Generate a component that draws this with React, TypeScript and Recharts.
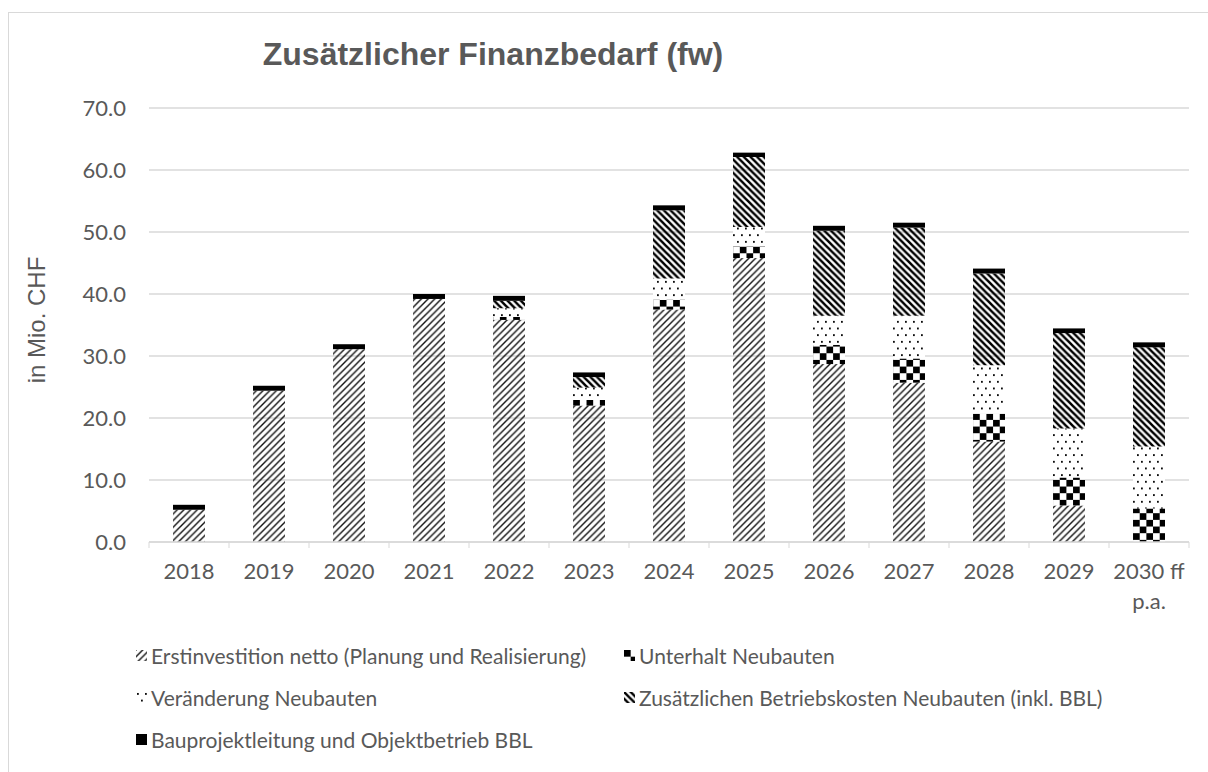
import React from 'react'
import { BarChart, Bar, XAxis, YAxis, CartesianGrid } from 'recharts'

const years = ['2018', '2019', '2020', '2021', '2022', '2023', '2024', '2025', '2026', '2027', '2028', '2029', '2030 ff p.a.']

// in Mio. CHF
const erstinvestition = [5.2, 24.4, 31.1, 39.2, 35.8, 22.0, 37.5, 45.8, 28.7, 25.7, 16.2, 5.9, 0]
const unterhalt = [0, 0, 0, 0, 0.5, 0.9, 1.6, 1.9, 3.1, 3.9, 4.5, 4.5, 5.4]
const veraenderung = [0, 0, 0, 0, 1.4, 2.0, 3.4, 3.1, 4.7, 6.9, 7.8, 7.9, 10.0]
const betriebskosten = [0, 0, 0, 0, 1.2, 1.7, 11.0, 11.3, 13.7, 14.2, 14.8, 15.4, 16.0]
const bauprojektleitung = [0.8, 0.8, 0.8, 0.8, 0.8, 0.75, 0.8, 0.7, 0.8, 0.8, 0.8, 0.75, 0.8]

const yTicks = [0, 10, 20, 30, 40, 50, 60, 70]

const series = [
  { key: 'erst', name: 'Erstinvestition netto (Planung und Realisierung)', fill: 'url(#patErst)' },
  { key: 'unterhalt', name: 'Unterhalt Neubauten', fill: 'url(#patCheck)' },
  { key: 'veraenderung', name: 'Veränderung Neubauten', fill: 'url(#patDots)' },
  { key: 'betrieb', name: 'Zusätzlichen Betriebskosten Neubauten (inkl. BBL)', fill: 'url(#patDown)' },
  { key: 'bau', name: 'Bauprojektleitung und Objektbetrieb BBL', fill: '#000' },
]

const data = years.map((year, i) => ({
  year,
  erst: erstinvestition[i],
  unterhalt: unterhalt[i],
  veraenderung: veraenderung[i],
  betrieb: betriebskosten[i],
  bau: bauprojektleitung[i],
}))

const W = 1208
const H = 772
const LEFT = 149
const RIGHT = 19
const BAND = (W - LEFT - RIGHT) / years.length
const GREY = '#595959'
const LINE = '#d9d9d9'
const FONT = 'Lato, "Open Sans", sans-serif'

function YearTick(props: any) {
  const { x, y, payload, index } = props
  const label: string = payload.value
  const lines = label.includes(' p.a.') ? [label.replace(' p.a.', ''), 'p.a.'] : [label]
  return (
    <g>
      <line x1={x - BAND / 2} x2={x - BAND / 2} y1={y} y2={y + 6} stroke={LINE} />
      {index === years.length - 1 && (
        <line x1={x + BAND / 2} x2={x + BAND / 2} y1={y} y2={y + 6} stroke={LINE} />
      )}
      {lines.map((l, i) => (
        <text key={i} x={x} y={y + 37 + i * 30} textAnchor="middle" fill={GREY} fontSize={22} fontFamily={FONT}>
          {l}
        </text>
      ))}
    </g>
  )
}

function Patterns() {
  return (
    <svg width={0} height={0} style={{ position: 'absolute' }}>
      <defs>
        <pattern id="patErst" width={6.67} height={6.67} patternUnits="userSpaceOnUse">
          <path d="M-1,7.67 L7.67,-1 M-1,1 L1,-1 M5.67,7.67 L7.67,5.67" stroke="#111" strokeWidth={1.4} />
        </pattern>
        <pattern id="patDown" width={6.67} height={6.67} patternUnits="userSpaceOnUse">
          <path d="M-1,-1 L7.67,7.67 M-1,5.67 L1,7.67 M5.67,-1 L7.67,1" stroke="#000" strokeWidth={2.5} />
        </pattern>
        <pattern id="patCheck" width={13.33} height={13.33} patternUnits="userSpaceOnUse">
          <rect width={13.33} height={13.33} fill="#fff" />
          <rect x={0} y={0} width={6.67} height={6.67} fill="#000" />
          <rect x={6.67} y={6.67} width={6.67} height={6.67} fill="#000" />
        </pattern>
        <pattern id="patDots" width={8} height={13.33} patternUnits="userSpaceOnUse">
          <rect width={8} height={13.33} fill="#fff" />
          <rect x={1} y={1} width={1.8} height={1.8} fill="#000" />
          <rect x={5} y={7.67} width={1.8} height={1.8} fill="#000" />
        </pattern>
      </defs>
    </svg>
  )
}

function LegendItem({ fill, name, x, y }: { fill: string; name: string; x: number; y: number }) {
  return (
    <div style={{ position: 'absolute', left: x, top: y - 13, display: 'flex', alignItems: 'center', gap: 4, height: 26 }}>
      <svg width={11} height={11}>
        <rect width={11} height={11} fill={fill} />
      </svg>
      <span style={{ fontFamily: FONT, fontSize: 21, color: GREY, whiteSpace: 'nowrap' }}>{name}</span>
    </div>
  )
}

export default function App() {
  const legendPos = [
    { x: 136, y: 655 },
    { x: 624, y: 655 },
    { x: 136, y: 697 },
    { x: 624, y: 697 },
    { x: 136, y: 739 },
  ]
  return (
    <div style={{ position: 'absolute', left: 0, top: 0, width: W, height: H, overflow: 'hidden', background: '#fff' }}>
      <Patterns />
      <div
        style={{
          position: 'absolute',
          left: 8,
          top: 12,
          width: W,
          height: H,
          borderLeft: `1px solid ${LINE}`,
          borderTop: `1px solid ${LINE}`,
        }}
      />
      <div
        style={{
          position: 'absolute',
          left: 0,
          width: 986,
          top: 34,
          textAlign: 'center',
          fontFamily: '"Liberation Sans", Arial, sans-serif',
          fontWeight: 'bold',
          fontSize: 32,
          color: GREY,
          lineHeight: '40px',
        }}
      >
        Zusätzlicher Finanzbedarf (fw)
      </div>
      <div
        style={{
          position: 'absolute',
          left: 37,
          top: 320,
          transform: 'translate(-50%, -50%) rotate(-90deg)',
          fontFamily: '"Liberation Sans", Arial, sans-serif',
          fontSize: 24,
          color: GREY,
          whiteSpace: 'nowrap',
        }}
      >
        in Mio. CHF
      </div>
      <div style={{ position: 'absolute', left: 0, top: 0 }}>
        <BarChart width={W} height={H} data={data} margin={{ top: 108, right: RIGHT, bottom: 150, left: 0 }}>
          <CartesianGrid vertical={false} stroke={LINE} strokeWidth={1.3} />
          <XAxis
            dataKey="year"
            height={80}
            interval={0}
            axisLine={{ stroke: LINE, strokeWidth: 1.3 }}
            tickLine={false}
            tickSize={0}
            tickMargin={0}
            tick={<YearTick />}
          />
          <YAxis
            width={LEFT}
            domain={[0, 70]}
            ticks={yTicks}
            interval={0}
            axisLine={false}
            tickLine={false}
            tickSize={0}
            tickMargin={23}
            tickFormatter={(v: number) => v.toFixed(1)}
            tick={{ fill: GREY, fontSize: 22, fontFamily: FONT }}
          />
          {series.map((s) => (
            <Bar key={s.key} dataKey={s.key} name={s.name} stackId="a" fill={s.fill} barSize={32} isAnimationActive={false} />
          ))}
        </BarChart>
      </div>
      {series.map((s, i) => (
        <LegendItem key={s.key} fill={s.fill} name={s.name} x={legendPos[i].x} y={legendPos[i].y} />
      ))}
    </div>
  )
}
